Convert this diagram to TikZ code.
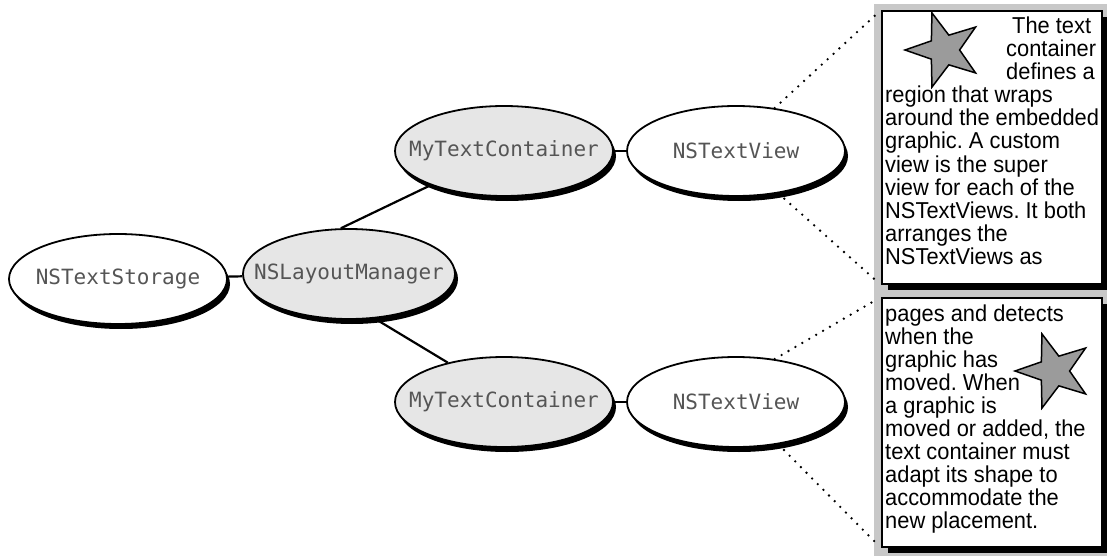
\documentclass[tikz,border=0pt]{standalone}
\usepackage{fontspec}
\setmainfont{Liberation Sans}
\newfontfamily\classfont{DejaVu Sans Mono}
\newfontfamily\notefont[FakeStretch=0.95]{Liberation Sans}
\usetikzlibrary{shapes.geometric,shadows}
\frenchspacing
\definecolor{panelgray}{RGB}{200,200,200}
\definecolor{objfill}{RGB}{230,230,230}
\definecolor{starfill}{RGB}{155,155,155}
\definecolor{labelgray}{RGB}{85,85,85}
% class names are centred without widening the ellipse
\newcommand\clsname[1]{\makebox[0pt]{#1}}
\tikzset{
  obj/.style={ellipse, draw=black, line width=1.8pt, fill=white,
    minimum width=218pt, minimum height=90pt, inner sep=0pt,
    font=\classfont\fontsize{21}{25}\selectfont, text=labelgray,
    drop shadow={shadow xshift=3pt, shadow yshift=-5pt, opacity=1, fill=black}},
  custom/.style={obj, fill=objfill},
  link/.style={line width=2.2pt},
  leader/.style={line width=2.6pt, dash pattern=on 0pt off 8pt, line cap=round},
  page/.style={rectangle, draw=black, line width=2pt, fill=white, inner sep=0pt,
    anchor=north west,
    drop shadow={shadow xshift=6pt, shadow yshift=-6pt, opacity=1, fill=black}},
  wrapline/.style={anchor=base west, inner sep=0pt,
    font=\notefont\fontsize{23}{23}\selectfont},
  graphic/.style={star, star points=5, star point ratio=2.5, minimum size=78pt,
    inner sep=0pt, rotate=90, fill=starfill, draw=black, line width=1.5pt},
}
\begin{document}
\begin{tikzpicture}[x=1pt, y=-1pt]
\useasboundingbox (0,0) rectangle (1107,556);

% object network
\node[obj]    (st)  at (118,279) {\clsname{NSTextStorage}};
\node[custom, minimum width=212pt] (lm) at (349,274) {\clsname{NSLayoutManager}};
\node[custom] (tc1) at (504,151) {\clsname{MyTextContainer}};
\node[obj]    (tv1) at (736,151) {\clsname{NSTextView}};
\node[custom] (tc2) at (504,402) {\clsname{MyTextContainer}};
\node[obj]    (tv2) at (736,402) {\clsname{NSTextView}};

\draw[link] (st) -- (lm);
\draw[link] (lm.100) -- (tc1.205);
\draw[link] (lm.-60) -- (tc2.145);
\draw[link] (tc1) -- (tv1);
\draw[link] (tc2) -- (tv2);

% pages of the custom view
\fill[panelgray] (874,4) rectangle (1107,556);
\node[page, minimum width=220pt, minimum height=273pt] (b1) at (881,10) {};
\node[page, minimum width=220pt, minimum height=249pt] (b2) at (881,297) {};

\draw[leader, shorten >=5pt] (tv1.48) -- (b1.north west);
\draw[leader, shorten >=5pt] (tv1.-45) -- (b1.south west);
\draw[leader, shorten >=5pt] (tv2.48) -- (b2.north west);
\draw[leader, shorten >=5pt] (tv2.-45) -- (b2.south west);

% embedded graphics
\node[graphic] (g1) at (944,50) {};
\node[graphic] (g2) at (1054,371) {};

% wrapped text, first page
\node[wrapline] (p1a) at (1012,34) {The text};
\node[wrapline] (p1b) at (1006,57) {container};
\node[wrapline] (p1c) at (1006,80) {defines a};
\foreach \ln [count=\i from 0] in {region that wraps, around the embedded,
    graphic. A custom, view is the super, view for each of the,
    NSTextViews. It both, arranges the, NSTextViews as}
  \node[wrapline] (p1-\i) at (885,{103+23*\i}) {\ln};

% wrapped text, second page
\foreach \ln [count=\i from 0] in {pages and detects, when the, graphic has,
    moved. When, a graphic is, {moved or added, the}, text container must,
    adapt its shape to, accommodate the, new placement.}
  \node[wrapline] (p2-\i) at (885,{321+23*\i}) {\ln};
\end{tikzpicture}
\end{document}
